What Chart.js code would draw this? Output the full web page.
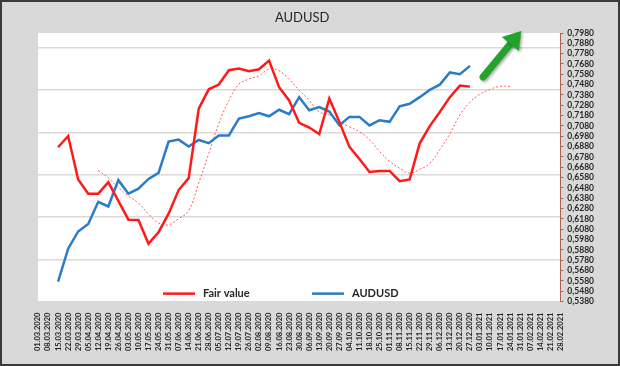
<!DOCTYPE html>
<html>
<head>
<meta charset="utf-8">
<script src="https://cdn.jsdelivr.net/npm/chart.js@4.4.0/dist/chart.umd.min.js"></script>
<style>
  html, body { margin: 0; padding: 0; background: #d9d9d9; }
  #wrap { width: 620px; height: 366px; }
</style>
</head>
<body>
<div id="wrap"><canvas id="grafico" width="620" height="366"></canvas></div>
<script>
const titulo = 'AUDUSD';

const fechas = [
  '01.03.2020', '08.03.2020', '15.03.2020', '22.03.2020', '29.03.2020', '05.04.2020', '12.04.2020',
  '19.04.2020', '26.04.2020', '03.05.2020', '10.05.2020', '17.05.2020', '24.05.2020', '31.05.2020',
  '07.06.2020', '14.06.2020', '21.06.2020', '28.06.2020', '05.07.2020', '12.07.2020', '19.07.2020',
  '26.07.2020', '02.08.2020', '09.08.2020', '16.08.2020', '23.08.2020', '30.08.2020', '06.09.2020',
  '13.09.2020', '20.09.2020', '27.09.2020', '04.10.2020', '11.10.2020', '18.10.2020', '25.10.2020',
  '01.11.2020', '08.11.2020', '15.11.2020', '22.11.2020', '29.11.2020', '06.12.2020', '13.12.2020',
  '20.12.2020', '27.12.2020', '03.01.2021', '10.01.2021', '17.01.2021', '24.01.2021', '31.01.2021',
  '07.02.2021', '14.02.2021', '21.02.2021', '28.02.2021'
];

const fairValue = [
  null, null, 0.6874, 0.6983, 0.6563, 0.6425, 0.6425, 0.6537, 0.6355, 0.6173, 0.6170, 0.5941,
  0.6052, 0.6231, 0.6460, 0.6575, 0.7247, 0.7435, 0.7481, 0.7620, 0.7636, 0.7610, 0.7629, 0.7713,
  0.7455, 0.7327, 0.7110, 0.7065, 0.7002, 0.7347, 0.7120, 0.6878, 0.6760, 0.6635, 0.6645, 0.6645,
  0.6546, 0.6563, 0.6912, 0.7079, 0.7216, 0.7359, 0.7471, 0.7461,
  null, null, null, null, null, null, null, null, null
];

const audusd = [
  null, null, 0.5574, 0.5893, 0.6059, 0.6132, 0.6346, 0.6301, 0.6556, 0.6425, 0.6473, 0.6568,
  0.6626, 0.6929, 0.6948, 0.6881, 0.6945, 0.6914, 0.6988, 0.6988, 0.7151, 0.7174, 0.7206, 0.7174,
  0.7237, 0.7194, 0.7359, 0.7232, 0.7263, 0.7220, 0.7088, 0.7168, 0.7168, 0.7085, 0.7136, 0.7120,
  0.7270, 0.7295, 0.7359, 0.7429, 0.7480, 0.7598, 0.7582, 0.7662,
  null, null, null, null, null, null, null, null, null
];

// linea punteada (media de fair value), sin leyenda
const fairMedia = [
  null, null, null, null, null, null, 0.6651, 0.6578, 0.6482, 0.6403, 0.6333, 0.6228,
  0.6142, 0.6123, 0.6183, 0.6260, 0.6527, 0.6814, 0.7104, 0.7327, 0.7486, 0.7534, 0.7566, 0.7629,
  0.7614, 0.7531, 0.7426, 0.7330, 0.7216, 0.7187, 0.7120, 0.7072, 0.7024, 0.6948, 0.6833, 0.6738,
  0.6671, 0.6623, 0.6661, 0.6718, 0.6852, 0.7005, 0.7187, 0.7311, 0.7388, 0.7435, 0.7464, 0.7464,
  null, null, null, null, null
];

const ejeMin = 0.538;
const ejeMax = 0.798;
const ejePaso = 0.01;

const fuente = 'Lato, "Open Sans", "Liberation Sans", sans-serif';

// fondo gris, area blanca y marco
const fondoPlugin = {
  id: 'fondo',
  beforeDraw(chart) {
    const { ctx, chartArea: ca, width, height } = chart;
    ctx.save();
    ctx.fillStyle = '#d9d9d9';
    ctx.fillRect(0, 0, width, height);
    ctx.fillStyle = '#ffffff';
    ctx.fillRect(ca.left, ca.top, ca.right - ca.left, ca.bottom - ca.top);
    ctx.strokeStyle = '#3a3a3a';
    ctx.lineWidth = 2;
    ctx.strokeRect(1, 1, width - 2, height - 2);
    ctx.restore();
  }
};

// titulo, leyenda y flecha
const decoracionPlugin = {
  id: 'decoracion',
  afterDraw(chart) {
    const { ctx, chartArea: ca } = chart;
    const w = ca.right - ca.left;
    const h = ca.bottom - ca.top;
    ctx.save();

    ctx.fillStyle = '#262626';
    ctx.font = '13px ' + fuente;
    ctx.textAlign = 'center';
    ctx.textBaseline = 'middle';
    ctx.fillText(titulo, (ca.left + ca.right) / 2 + 3, 18);

    const posiciones = [125, 274];
    chart.data.datasets.filter(d => d.enLeyenda).forEach((d, i) => {
      const x = ca.left + posiciones[i];
      const y = ca.bottom - 8;
      ctx.strokeStyle = d.borderColor;
      ctx.lineWidth = 2.5;
      ctx.beginPath();
      ctx.moveTo(x, y);
      ctx.lineTo(x + 32, y);
      ctx.stroke();
      ctx.fillStyle = '#262626';
      ctx.font = 'bold 11px ' + fuente;
      ctx.textAlign = 'left';
      ctx.fillText(d.label, x + 40, y);
    });

    const x0 = ca.left + 0.852 * w, y0 = ca.top + 0.164 * h;
    const x1 = ca.left + 0.925 * w, y1 = ca.top - 2;
    const ang = Math.atan2(y1 - y0, x1 - x0);
    const largoPunta = 17, anchoPunta = 11;
    const bx = x1 - largoPunta * Math.cos(ang), by = y1 - largoPunta * Math.sin(ang);
    ctx.shadowColor = 'rgba(0,0,0,0.35)';
    ctx.shadowBlur = 3;
    ctx.shadowOffsetX = 1.5;
    ctx.shadowOffsetY = 1.5;
    ctx.strokeStyle = '#22a32c';
    ctx.fillStyle = '#22a32c';
    ctx.lineWidth = 7;
    ctx.lineCap = 'round';
    ctx.beginPath();
    ctx.moveTo(x0, y0);
    ctx.lineTo(bx, by);
    ctx.stroke();
    ctx.beginPath();
    ctx.moveTo(x1, y1);
    ctx.lineTo(bx + anchoPunta * Math.sin(ang), by - anchoPunta * Math.cos(ang));
    ctx.lineTo(bx - anchoPunta * Math.sin(ang), by + anchoPunta * Math.cos(ang));
    ctx.closePath();
    ctx.fill();
    ctx.restore();
  }
};

new Chart(document.getElementById('grafico'), {
  type: 'line',
  data: {
    labels: fechas,
    datasets: [
      {
        label: 'Fair value',
        data: fairValue,
        borderColor: '#ff1a1a',
        borderWidth: 2.5,
        pointRadius: 0,
        tension: 0,
        yAxisID: 'y',
        enLeyenda: true
      },
      {
        label: 'AUDUSD',
        data: audusd,
        borderColor: '#2b7bc6',
        borderWidth: 2.5,
        pointRadius: 0,
        tension: 0,
        yAxisID: 'y',
        enLeyenda: true
      },
      {
        label: '',
        data: fairMedia,
        borderColor: '#ff5a5a',
        borderWidth: 1,
        borderDash: [2, 2],
        pointRadius: 0,
        tension: 0.4,
        yAxisID: 'y'
      }
    ]
  },
  options: {
    responsive: false,
    animation: false,
    layout: { padding: { left: 38, right: 22, top: 33, bottom: 12 } },
    plugins: {
      legend: { display: false },
      title: { display: false },
      tooltip: { enabled: false }
    },
    scales: {
      x: {
        offset: false,
        grid: { display: false },
        border: { display: false },
        ticks: {
          autoSkip: false,
          minRotation: 90,
          maxRotation: 90,
          padding: 3,
          color: '#262626',
          font: { family: fuente, size: 7.5, weight: 'bold' }
        }
      },
      y: {
        position: 'right',
        min: ejeMin,
        max: ejeMax,
        grid: { drawOnChartArea: false, color: '#b06050', tickLength: 3 },
        border: { color: '#b06050' },
        ticks: {
          stepSize: ejePaso,
          autoSkip: false,
          padding: 4,
          color: '#262626',
          font: { family: fuente, size: 8.5, weight: 'bold' },
          callback: v => v.toFixed(4).replace('.', ',')
        }
      },
      rejilla: {
        position: 'left',
        min: 0,
        max: 6.35,
        border: { display: false },
        grid: {
          drawTicks: false,
          lineWidth: 1.5,
          color: c => Number.isInteger(c.tick.value) ? '#dadada' : 'rgba(0,0,0,0)'
        },
        ticks: { display: false, stepSize: 1 }
      }
    }
  },
  plugins: [fondoPlugin, decoracionPlugin]
});
</script>
</body>
</html>
